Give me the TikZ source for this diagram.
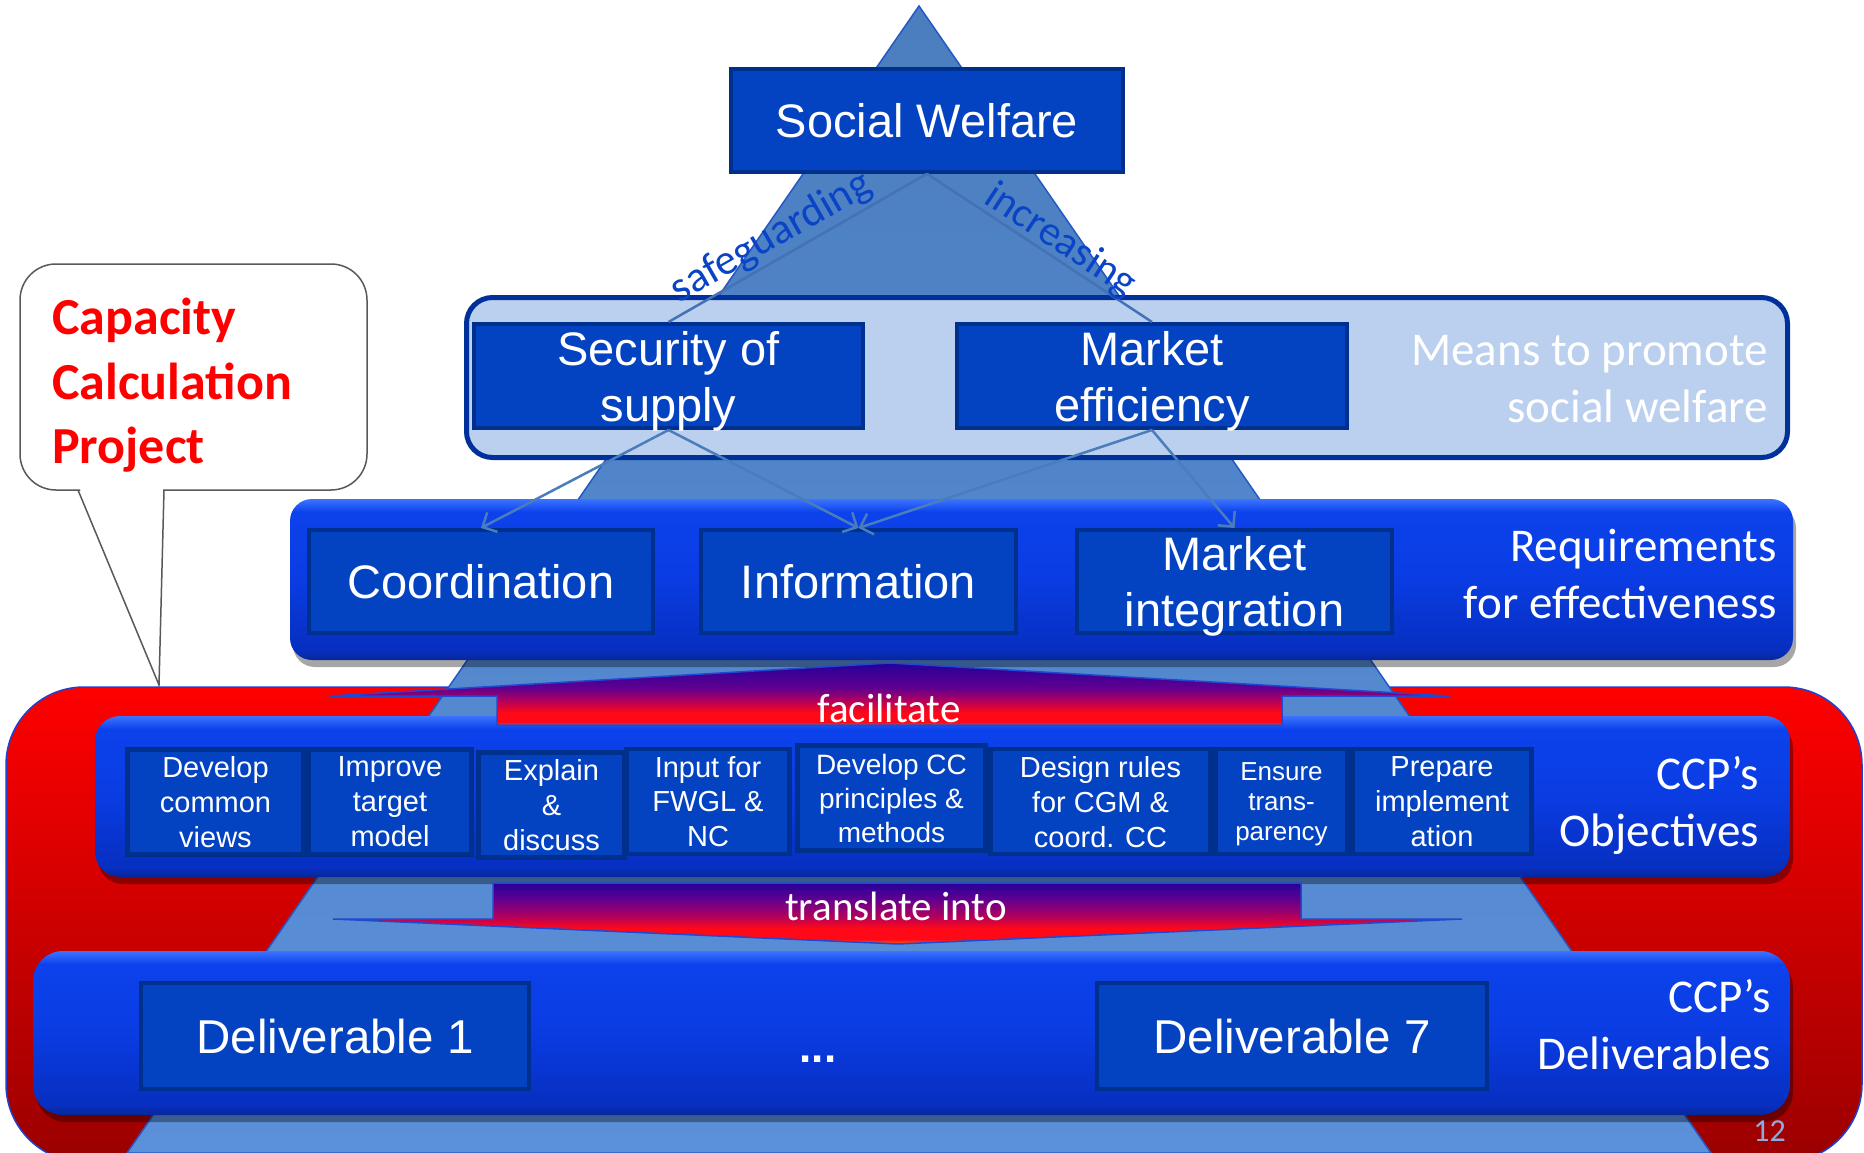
\documentclass[tikz,border=0pt]{standalone}
\usepackage{fontspec}
\setmainfont{Liberation Sans}
\newfontfamily\calib{Carlito}
\usetikzlibrary{arrows.meta}
\newcommand\fsz[2]{\fontsize{#1}{#2}\selectfont}
\definecolor{pyrtop}{HTML}{4A7EBE}
\definecolor{pyrbot}{HTML}{5B90DA}
\definecolor{pyrline}{HTML}{2458C4}
\definecolor{boxfill}{HTML}{0343C2}
\definecolor{boxline}{HTML}{00308E}
\definecolor{meansfill}{HTML}{BBCFEE}
\definecolor{meansline}{HTML}{00309A}
\definecolor{connc}{HTML}{4A7DBB}
\definecolor{swc}{HTML}{4372B5}
\definecolor{lbl}{HTML}{0A44C6}
\definecolor{redtop}{HTML}{FF0000}
\definecolor{redbot}{HTML}{9A0000}
\definecolor{redline}{HTML}{2040D0}
\definecolor{barhl}{HTML}{3C74FF}
\definecolor{bartop}{HTML}{0C42EC}
\definecolor{barmid}{HTML}{0A3CE2}
\definecolor{barbot}{HTML}{072FC0}
\definecolor{barrim}{HTML}{06279A}
\definecolor{arrviolet}{HTML}{25009A}
\definecolor{arrpurp}{HTML}{600090}
\definecolor{arrmag}{HTML}{B0005E}
\definecolor{arrred}{HTML}{FF0818}
\definecolor{arrorange}{HTML}{FF6010}
\definecolor{arrline}{HTML}{2048D0}
\definecolor{pagenum}{HTML}{8FAADC}
\definecolor{callline}{HTML}{595959}
\pgfdeclareverticalshading{barshade}{100bp}{color(0bp)=(barrim); color(25bp)=(barrim); color(28bp)=(barbot); color(50bp)=(barmid); color(71bp)=(bartop); color(75bp)=(barhl); color(100bp)=(barhl)}
\pgfdeclareverticalshading{facshade}{100bp}{color(0bp)=(arrorange); color(25bp)=(arrorange); color(27bp)=(arrred); color(35bp)=(arrred); color(45bp)=(arrmag); color(55bp)=(arrpurp); color(75bp)=(arrviolet); color(100bp)=(arrviolet)}
\pgfdeclareverticalshading{trashade}{100bp}{color(0bp)=(arrorange); color(25bp)=(arrorange); color(29bp)=(arrred); color(38bp)=(arrred); color(48bp)=(arrmag); color(62bp)=(arrpurp); color(75bp)=(arrviolet); color(100bp)=(arrviolet)}
\tikzset{
  box/.style={draw=boxline, line width=4pt, fill=boxfill, text=white, inner sep=0pt, align=center, text depth=0pt},
  bigbox/.style={box, font=\fsz{47}{56}},
  objbox/.style={box, line width=4.5pt, minimum height=105pt, font=\fsz{29}{35}},
  laytext/.style={text=white, inner sep=0pt, align=right, anchor=north east, font=\calib\fsz{47}{57}},
  bar/.style={shading=barshade},
  barshadow/.style={fill=black, opacity=0.35},
  connarrow/.style={draw=connc, line width=2.5pt, -{Straight Barb[length=11pt,width=22pt]}},
  swline/.style={draw=swc, line width=2.5pt},
  lbltext/.style={text=lbl, inner sep=0pt, font=\calib\fsz{43}{50}},
  arrowtext/.style={text=white, inner sep=0pt, font=\calib\fsz{41}{48}},
}
\begin{document}
\begin{tikzpicture}[x=1pt,y=-1pt]
\useasboundingbox (0,0) rectangle (1864,1153);
\clip (0,0) rectangle (1864,1153);
\fill[white] (0,0) rectangle (1864,1153);

% red project area
\draw[draw=redline, line width=1.5pt, top color=redtop, bottom color=redbot, rounded corners=78pt] (6,687) rectangle (1862,1162);

% pyramid
\draw[draw=pyrline, line width=1.5pt, top color=pyrtop, bottom color=pyrbot] (919,6) -- (1711,1153) -- (127,1153) -- cycle;

% callout
\draw[callline, line width=1.5pt, fill=white, rounded corners=36pt] (20,264) rectangle (367,490);
\fill[white] (79,487) -- (159,684) -- (163,487) -- cycle;
\draw[callline, line width=1.5pt] (78,490) -- (159,685) -- (164,490);
\node[anchor=north west, inner sep=0pt, align=left, text=red, font=\calib\bfseries\fsz{52}{64.5}] (ccp) at (52,298) {Capacity\\Calculation\\Project};

% social welfare
\node[bigbox, line width=3.5pt, minimum width=392pt, minimum height=103pt] (sw) at (927,120.5) {Social Welfare};

% means layer
\draw[meansline, line width=5pt, fill=meansfill, rounded corners=26pt] (466.5,297.5) rectangle (1787.5,457.5);
\node[bigbox, minimum width=389pt, minimum height=104pt] (sec) at (668.5,376) {Security of\\supply};
\node[bigbox, minimum width=390pt, minimum height=104pt] (eff) at (1152,376) {Market\\efficiency};
\node[laytext] (means) at (1768,335) {Means to promote\\social welfare};

\draw[swline] (sec.north) -- node[pos=0.44, sloped, above=2pt, lbltext] (sg) {safeguarding} (sw.south);
\draw[swline] (sw.south) -- node[pos=0.55, sloped, above=-2pt, lbltext, font=\calib\fsz{42}{50}] (inc) {increasing} (eff.north);

% requirements layer
\fill[barshadow, rounded corners=22pt] (293,506) rectangle (1796,667);
\shade[bar, rounded corners=22pt] (290,499) rectangle (1793,660);
\node[bigbox, minimum width=344pt, minimum height=103pt] (coord) at (481,581.5) {Coordination};
\node[bigbox, minimum width=315pt, minimum height=103pt] (info) at (858.5,581.5) {Information};
\node[bigbox, minimum width=315pt, minimum height=103pt] (integ) at (1234.5,581.5) {Market\\integration};
\node[laytext] (req) at (1777,529) {Requirements\\for effectiveness};

% objectives layer
\fill[barshadow, rounded corners=25pt] (98,723) rectangle (1793,884);
\shade[bar, rounded corners=25pt] (95,716) rectangle (1790,877);
\node[objbox, minimum width=176pt] (o1) at (215.5,802) {Develop\\common\\views};
\node[objbox, minimum width=163pt] (o2) at (390,802) {Improve\\target\\model};
\node[objbox, minimum width=146pt] (o3) at (551.5,805) {Explain\\\&\\discuss};
\node[objbox, minimum width=163pt] (o4) at (708,801.5) {Input for\\FWGL \&\\NC};
\node[objbox, minimum width=188pt, font=\fsz{28}{34}] (o5) at (891.5,798) {Develop CC\\principles \&\\methods};
\node[objbox, minimum width=220pt] (o6) at (1100.5,801.5) {Design rules\\for CGM \&\\coord. CC};
\node[objbox, minimum width=132pt, font=\fsz{26}{30}] (o7) at (1281.5,801.5) {Ensure\\trans-\\parency};
\node[objbox, minimum width=179pt] (o8) at (1442,801.5) {Prepare\\implement\\ation};
\node[laytext] (obj) at (1759,756) {CCP’s\\Objectives};

% facilitate arrow
\shadedraw[shading=facshade, draw=arrline, line width=1.5pt] (330,696) -- (890,663) -- (1449,696) -- (1282,696) -- (1282,725) -- (497,725) -- (497,696) -- cycle;
\node[arrowtext] (fac) at (889,708) {facilitate};

% translate arrow
\shadedraw[shading=trashade, draw=arrline, line width=1.5pt] (493,883) -- (1301,883) -- (1301,919) -- (1462,919) -- (898,944) -- (333,919) -- (493,919) -- cycle;
\node[arrowtext] (tra) at (896,906) {translate into};

% deliverables layer
\fill[barshadow, rounded corners=30pt] (36,958) rectangle (1793,1122);
\shade[bar, rounded corners=30pt] (33,951) rectangle (1790,1115);
\node[bigbox, minimum width=388pt, minimum height=106pt, font=\fsz{47.5}{54}] (d1) at (335,1036) {Deliverable 1};
\node[bigbox, minimum width=390pt, minimum height=106pt, font=\fsz{47.5}{54}] (d7) at (1292,1036) {Deliverable 7};
\node[anchor=base, text=white, inner sep=0pt, font=\bfseries\fsz{44}{50}] (dots) at (818,1062) {...};
\node[laytext] (del) at (1771,979) {CCP’s\\Deliverables};
\node[anchor=base east, text=pagenum, inner sep=0pt, font=\calib\fsz{32}{36}] (pg) at (1786,1141) {12};

% connectors
\draw[connarrow] (sec.south) -- (coord.north);
\draw[connarrow] (sec.south) -- (info.north);
\draw[connarrow] (eff.south) -- (info.north);
\draw[connarrow] (eff.south) -- (integ.north);
\end{tikzpicture}
\end{document}
